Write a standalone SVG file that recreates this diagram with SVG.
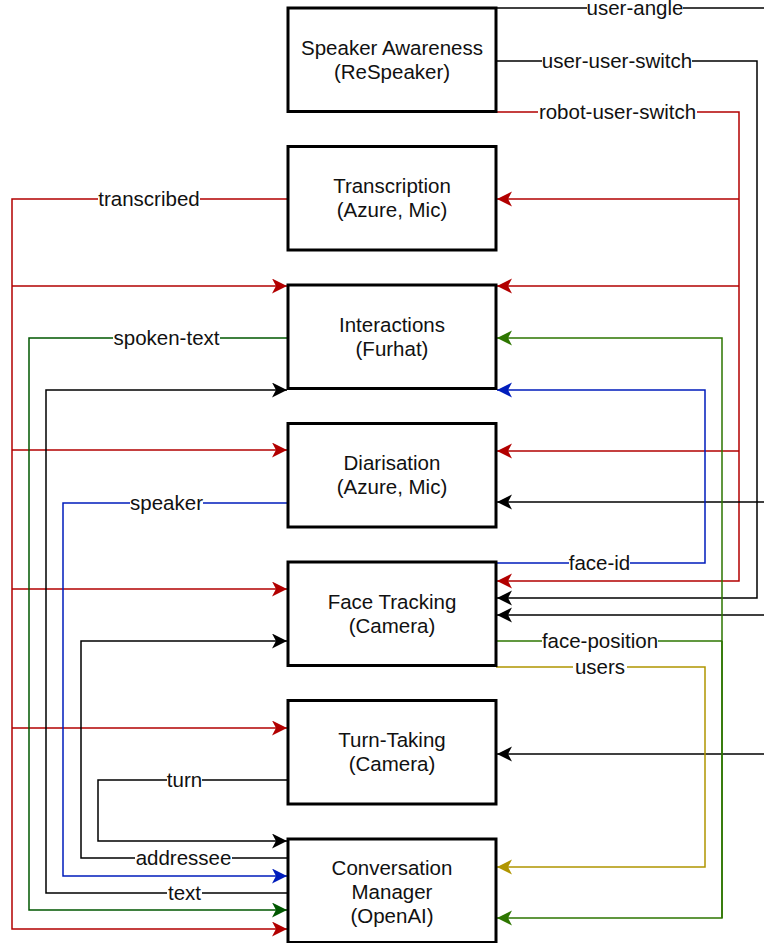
<svg xmlns="http://www.w3.org/2000/svg" width="764" height="943" viewBox="0 0 764 943">
<style>
.box{fill:#fff;stroke:#000;stroke-width:3}
.nt{font-family:"Liberation Sans",Arial,sans-serif;font-size:20.5px;fill:#111;text-anchor:middle}
.e{fill:none;stroke-width:1.5}
.k{stroke:#000}.r{stroke:#B20000}.g{stroke:#2D7600}.dg{stroke:#005700}.b{stroke:#001DBC}.o{stroke:#B09500}
.lb{fill:#fff}
.lt{font-family:"Liberation Sans",Arial,sans-serif;font-size:20.5px;fill:#111;text-anchor:middle}
</style>
<defs>
<marker id="mk" markerUnits="userSpaceOnUse" markerWidth="16" markerHeight="16" viewBox="0 0 16 16" refX="15" refY="7.5" orient="auto"><path d="M0,0 L15,7.5 L0,15 L4,7.5 Z" fill="#000"/></marker>
<marker id="mr" markerUnits="userSpaceOnUse" markerWidth="16" markerHeight="16" viewBox="0 0 16 16" refX="15" refY="7.5" orient="auto"><path d="M0,0 L15,7.5 L0,15 L4,7.5 Z" fill="#B20000"/></marker>
<marker id="mg" markerUnits="userSpaceOnUse" markerWidth="16" markerHeight="16" viewBox="0 0 16 16" refX="15" refY="7.5" orient="auto"><path d="M0,0 L15,7.5 L0,15 L4,7.5 Z" fill="#2D7600"/></marker>
<marker id="mdg" markerUnits="userSpaceOnUse" markerWidth="16" markerHeight="16" viewBox="0 0 16 16" refX="15" refY="7.5" orient="auto"><path d="M0,0 L15,7.5 L0,15 L4,7.5 Z" fill="#005700"/></marker>
<marker id="mb" markerUnits="userSpaceOnUse" markerWidth="16" markerHeight="16" viewBox="0 0 16 16" refX="15" refY="7.5" orient="auto"><path d="M0,0 L15,7.5 L0,15 L4,7.5 Z" fill="#001DBC"/></marker>
<marker id="mo" markerUnits="userSpaceOnUse" markerWidth="16" markerHeight="16" viewBox="0 0 16 16" refX="15" refY="7.5" orient="auto"><path d="M0,0 L15,7.5 L0,15 L4,7.5 Z" fill="#B09500"/></marker>
</defs>
<rect width="764" height="943" fill="#fff"/>

<g id="connectors">
  <!-- right side -->
  <path class="e k" d="M496,8 H764"/>
  <path class="e k" d="M496,61 H757 V598 H497" marker-end="url(#mk)"/>
  <path class="e r" d="M496,112 H739 V581 H497" marker-end="url(#mr)"/>
  <path class="e r" d="M739,199 H497" marker-end="url(#mr)"/>
  <path class="e r" d="M739,286 H497" marker-end="url(#mr)"/>
  <path class="e r" d="M739,451 H497" marker-end="url(#mr)"/>
  <path class="e k" d="M764,502 H497" marker-end="url(#mk)"/>
  <path class="e k" d="M764,615 H497" marker-end="url(#mk)"/>
  <path class="e k" d="M764,754 H497" marker-end="url(#mk)"/>
  <path class="e b" d="M496,563 H705 V390 H497" marker-end="url(#mb)"/>
  <path class="e g" d="M496,641 H722"/>
  <path class="e g" d="M722,918 V338 H497" marker-end="url(#mg)"/>
  <path class="e g" d="M722,641 V918 H497" marker-end="url(#mg)"/>
  <path class="e o" d="M496,667 H705 V867 H497" marker-end="url(#mo)"/>
  <!-- left side -->
  <path class="e r" d="M288,199 H12 V929 H287" marker-end="url(#mr)"/>
  <path class="e r" d="M12,286 H287" marker-end="url(#mr)"/>
  <path class="e r" d="M12,450 H287" marker-end="url(#mr)"/>
  <path class="e r" d="M12,589 H287" marker-end="url(#mr)"/>
  <path class="e r" d="M12,728 H287" marker-end="url(#mr)"/>
  <path class="e dg" d="M288,338 H29 V910 H287" marker-end="url(#mdg)"/>
  <path class="e k" d="M288,893 H46 V390 H287" marker-end="url(#mk)"/>
  <path class="e b" d="M288,503 H63 V876 H287" marker-end="url(#mb)"/>
  <path class="e k" d="M288,858 H81 V641 H287" marker-end="url(#mk)"/>
  <path class="e k" d="M288,780 H98 V841 H287" marker-end="url(#mk)"/>

  <!-- labels -->
  <rect class="lb" x="587" y="0" width="96" height="20"/>
  <text class="lt" x="635" y="15">user-angle</text>
  <rect class="lb" x="542" y="50" width="150" height="22"/>
  <text class="lt" x="617" y="68">user-user-switch</text>
  <rect class="lb" x="538" y="101" width="159" height="22"/>
  <text class="lt" x="617.5" y="119">robot-user-switch</text>
  <rect class="lb" x="569" y="552" width="61" height="22"/>
  <text class="lt" x="599.5" y="570">face-id</text>
  <rect class="lb" x="542" y="630" width="116" height="22"/>
  <text class="lt" x="600" y="648">face-position</text>
  <rect class="lb" x="573" y="656" width="54" height="22"/>
  <text class="lt" x="600" y="674">users</text>
  <rect class="lb" x="98" y="188" width="102" height="22"/>
  <text class="lt" x="149" y="206">transcribed</text>
  <rect class="lb" x="113" y="327" width="107" height="22"/>
  <text class="lt" x="166.5" y="345">spoken-text</text>
  <rect class="lb" x="130" y="492" width="73" height="22"/>
  <text class="lt" x="166.5" y="510">speaker</text>
  <rect class="lb" x="167" y="769" width="35" height="22"/>
  <text class="lt" x="184.5" y="787">turn</text>
  <rect class="lb" x="135" y="847" width="97" height="22"/>
  <text class="lt" x="183.5" y="865">addressee</text>
  <rect class="lb" x="167" y="882" width="35" height="22"/>
  <text class="lt" x="184.5" y="900">text</text>
</g>

<g id="speaker-awareness">
  <rect class="box" x="288" y="8" width="208" height="103.5"/>
  <text class="nt" x="392" y="54.5">Speaker Awareness</text>
  <text class="nt" x="392" y="78.5">(ReSpeaker)</text>
</g>
<g id="transcription">
  <rect class="box" x="288" y="146.5" width="208" height="103.5"/>
  <text class="nt" x="392" y="193">Transcription</text>
  <text class="nt" x="392" y="217">(Azure, Mic)</text>
</g>
<g id="interactions">
  <rect class="box" x="288" y="285" width="208" height="103.5"/>
  <text class="nt" x="392" y="331.5">Interactions</text>
  <text class="nt" x="392" y="355.5">(Furhat)</text>
</g>
<g id="diarisation">
  <rect class="box" x="288" y="423.5" width="208" height="103.5"/>
  <text class="nt" x="392" y="470">Diarisation</text>
  <text class="nt" x="392" y="494">(Azure, Mic)</text>
</g>
<g id="face-tracking">
  <rect class="box" x="288" y="562" width="208" height="103.5"/>
  <text class="nt" x="392" y="608.5">Face Tracking</text>
  <text class="nt" x="392" y="632.5">(Camera)</text>
</g>
<g id="turn-taking">
  <rect class="box" x="288" y="700.5" width="208" height="103.5"/>
  <text class="nt" x="392" y="747">Turn-Taking</text>
  <text class="nt" x="392" y="771">(Camera)</text>
</g>
<g id="conversation-manager">
  <rect class="box" x="288" y="839" width="208" height="103.5"/>
  <text class="nt" x="392" y="874.5">Conversation</text>
  <text class="nt" x="392" y="898.5">Manager</text>
  <text class="nt" x="392" y="922.5">(OpenAI)</text>
</g>
</svg>
